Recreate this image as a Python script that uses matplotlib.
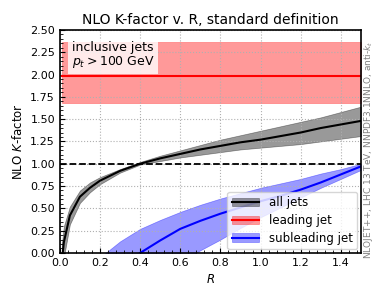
import numpy as np
import matplotlib
matplotlib.use("Agg")
import matplotlib.pyplot as plt
from matplotlib.ticker import MultipleLocator

R = [0.01, 0.02, 0.05, 0.1, 0.15, 0.2, 0.3, 0.4, 0.5, 0.6, 0.7, 0.8,
     0.9, 1.0, 1.1, 1.2, 1.3, 1.4, 1.5]

# all jets
k_all = [-0.1, 0.12, 0.42, 0.63, 0.73, 0.81, 0.92, 1.0, 1.06, 1.11, 1.16,
         1.2, 1.24, 1.27, 1.31, 1.35, 1.40, 1.44, 1.48]
k_all_lo = [-0.3, -0.05, 0.32, 0.56, 0.68, 0.77, 0.9, 0.99, 1.03, 1.07,
            1.10, 1.13, 1.16, 1.18, 1.2, 1.22, 1.25, 1.28, 1.31]
k_all_hi = [0.1, 0.3, 0.52, 0.7, 0.79, 0.85, 0.94, 1.02, 1.09, 1.15, 1.21,
            1.27, 1.32, 1.37, 1.42, 1.47, 1.52, 1.58, 1.64]

# leading jet
k_lead = [1.98] * len(R)
k_lead_lo = [1.685] * len(R)
k_lead_hi = [2.36] * len(R)

# subleading jet
k_sub = [-0.9, -0.85, -0.75, -0.6, -0.45, -0.3, -0.15, 0.0, 0.14, 0.27,
         0.36, 0.44, 0.51, 0.58, 0.64, 0.71, 0.79, 0.88, 0.97]
k_sub_lo = [-1.5, -1.4, -1.3, -1.2, -1.0, -0.9, -0.6, -0.4, -0.25, -0.1,
            0.03, 0.15, 0.28, 0.4, 0.51, 0.62, 0.73, 0.83, 0.93]
k_sub_hi = [-0.6, -0.55, -0.45, -0.3, -0.18, -0.05, 0.13, 0.27, 0.37,
            0.46, 0.54, 0.61, 0.67, 0.73, 0.78, 0.83, 0.89, 0.94, 1.0]

plt.rcParams['font.size'] = 8.5

fig = plt.figure(figsize=(3.74, 2.99), dpi=100)
ax = fig.add_axes([0.160, 0.154, 0.805, 0.746])

series = [
    ("all jets", k_all, k_all_lo, k_all_hi, 'black', 'black'),
    ("leading jet", k_lead, k_lead_lo, k_lead_hi, 'red', 'red'),
    ("subleading jet", k_sub, k_sub_lo, k_sub_hi, 'blue', 'blue'),
]
handles = []
for label, c, lo, hi, lc, fc in series:
    f = ax.fill_between(R, lo, hi, color=fc, alpha=0.4, lw=0.5)
    l, = ax.plot(R, c, color=lc, lw=1.5)
    handles.append((f, l))

ax.axhline(1.0, color='black', ls='--', lw=1.3)

ax.set_xlim(0, 1.5)
ax.set_ylim(0, 2.5)
ax.xaxis.set_major_locator(MultipleLocator(0.2))
ax.xaxis.set_minor_locator(MultipleLocator(0.04))
ax.yaxis.set_major_locator(MultipleLocator(0.25))
ax.yaxis.set_minor_locator(MultipleLocator(0.05))
ax.tick_params(which='both', direction='in', labelsize=8)
ax.grid(True, ls=':', color='#b0b0b0', lw=0.8)
for s in ax.spines.values():
    s.set_linewidth(1.2)

ax.set_xlabel("$R$", fontsize=8.5)
ax.set_ylabel("NLO $K$-factor", fontsize=8.5)
ax.set_title("NLO K-factor v. R, standard definition", fontsize=10, pad=4)

ax.text(0.04, 0.95, "inclusive jets\n$p_t > 100$ GeV", transform=ax.transAxes,
        va='top', ha='left', fontsize=9, linespacing=1.0,
        bbox=dict(facecolor='white', edgecolor='none', alpha=0.8, pad=2.5))

ax.legend(handles, [s[0] for s in series], loc='lower right', fontsize=8.5,
          handlelength=2.3, borderaxespad=0.3, labelspacing=0.4,
          borderpad=0.4)

fig.text(0.985, 0.50, "NLOJET++, LHC 13 TeV, NNPDF3.1NNLO, anti-$k_t$",
         rotation=90, ha='center', va='center', fontsize=6.5, color='gray')

fig.savefig("out.png", dpi=100)
